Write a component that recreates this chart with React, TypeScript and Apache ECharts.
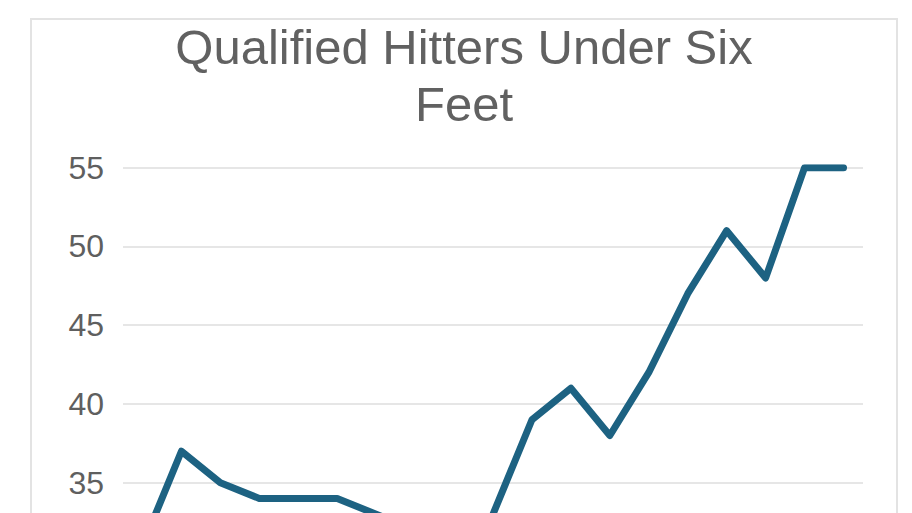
import React, { useRef, useEffect } from "react";
import * as echarts from "echarts";

const seasons = [
  "2000", "2001", "2002", "2003", "2004", "2005", "2006", "2007", "2008", "2009",
  "2010", "2011", "2012", "2013", "2014", "2015", "2016", "2017", "2018",
];
const hitters = [31, 37, 35, 34, 34, 34, 33, 32, 31, 33, 39, 41, 38, 42, 47, 51, 48, 55, 55];
const titleText = "Qualified Hitters Under Six\nFeet";
// the picture is cropped at the bottom: only these ticks are in view
const lowestShownTick = 35;

export default function App() {
  const chartRef = useRef<HTMLDivElement>(null);

  useEffect(() => {
    if (!chartRef.current) return;
    const chart = echarts.init(chartRef.current, undefined, { renderer: "svg" });

    chart.setOption({
      animation: false,
      backgroundColor: "#fff",
      textStyle: { fontFamily: "Arial, 'Liberation Sans', sans-serif" },
      graphic: [
        {
          type: "rect",
          shape: { x: 31, y: 19, width: 866, height: 1060 },
          style: { fill: "none", stroke: "#e3e3e3", lineWidth: 2 },
          silent: true,
        },
      ],
      title: {
        text: titleText,
        left: 459,
        top: 13,
        textAlign: "center",
        textStyle: {
          color: "#616161",
          fontSize: 49,
          fontWeight: "normal",
          lineHeight: 57,
          align: "center",
        },
      },
      grid: { left: 123, right: 49, top: 167.7, bottom: 66 },
      xAxis: {
        type: "category",
        data: seasons,
        boundaryGap: true,
        axisLine: { lineStyle: { color: "#d9d9d9", width: 2 } },
        axisTick: { show: false },
        axisLabel: { show: false },
      },
      yAxis: {
        type: "value",
        min: 0,
        max: 55,
        interval: 5,
        axisLine: { show: false },
        axisTick: { show: false },
        axisLabel: {
          color: "#5f5f5f",
          fontSize: 32,
          margin: 19,
          formatter: (v: number) => (v >= lowestShownTick ? String(v) : ""),
        },
        splitLine: { lineStyle: { color: "#e6e6e6", width: 2 } },
      },
      series: [
        {
          type: "line",
          data: hitters,
          symbol: "none",
          lineStyle: { color: "#1d6282", width: 7, join: "round", cap: "round" },
        },
      ],
    });

    return () => chart.dispose();
  }, []);

  return (
    <div
      style={{
        position: "fixed",
        left: 0,
        top: 0,
        width: 912,
        height: 513,
        overflow: "hidden",
        background: "#fff",
      }}
    >
      <div ref={chartRef} style={{ width: 912, height: 1100 }} />
    </div>
  );
}
